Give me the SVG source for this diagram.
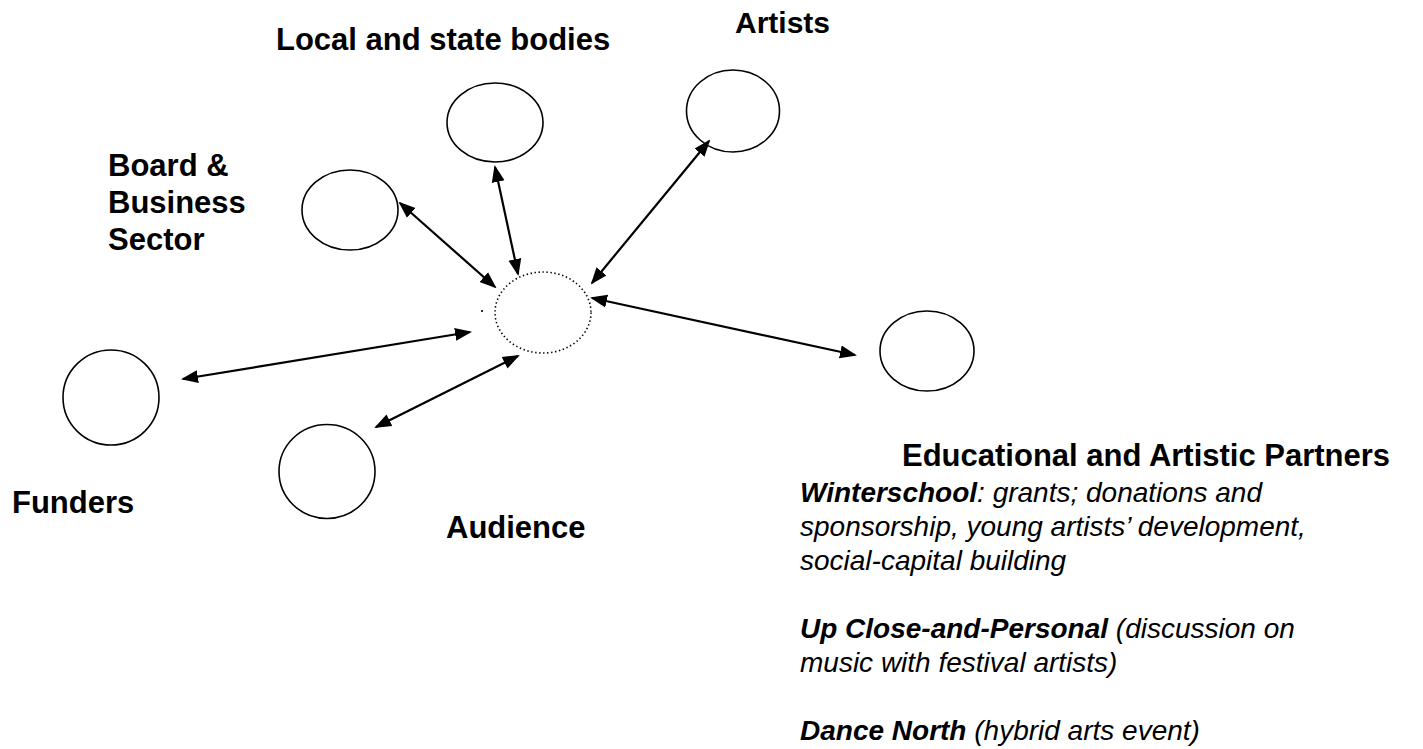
<svg xmlns="http://www.w3.org/2000/svg" width="1423" height="749" viewBox="0 0 1423 749">
<style>
.node{fill:none;stroke:#000;stroke-width:1.6}
.hub{fill:none;stroke:#000;stroke-width:1.6;stroke-dasharray:1.4 2.6}
.lbl{font-family:"Liberation Sans",Arial,sans-serif;font-weight:bold;font-size:31px;fill:#000}
.it{font-family:"Liberation Sans",Arial,sans-serif;font-style:italic;font-size:28px;fill:#000}
.b{font-weight:bold}
.con line{stroke:#000;stroke-width:2.2;marker-start:url(#ah);marker-end:url(#ah)}
</style>
<defs>
<marker id="ah" markerUnits="userSpaceOnUse" markerWidth="17" markerHeight="14" viewBox="0 0 17 14" refX="15" refY="7" orient="auto-start-reverse">
<path d="M0,0.5 L17,7 L0,13.5 z" fill="#000"/>
</marker>
</defs>
<rect width="1423" height="749" fill="#fff"/>
<g id="hub">
<ellipse class="hub" cx="543" cy="312.5" rx="48" ry="40.5"/>
<circle cx="482" cy="311" r="1.1" fill="#000"/>
</g>
<g id="local">
<ellipse class="node" cx="495" cy="122.5" rx="48" ry="39.5"/>
<text class="lbl" x="276" y="50">Local and state bodies</text>
</g>
<g id="artists">
<ellipse class="node" cx="733" cy="111" rx="46.5" ry="41"/>
<text class="lbl" x="735" y="33" style="font-size:30px">Artists</text>
</g>
<g id="board">
<ellipse class="node" cx="350" cy="210" rx="48" ry="40"/>
<text class="lbl" x="108"><tspan x="108" y="176">Board &amp;</tspan><tspan x="108" y="213">Business</tspan><tspan x="108" y="250">Sector</tspan></text>
</g>
<g id="funders">
<ellipse class="node" cx="111" cy="397.5" rx="48" ry="47.5"/>
<text class="lbl" x="12" y="513">Funders</text>
</g>
<g id="audience">
<ellipse class="node" cx="327" cy="471.5" rx="48" ry="47"/>
<text class="lbl" x="446" y="538">Audience</text>
</g>
<g id="partners">
<ellipse class="node" cx="927" cy="351" rx="47" ry="40"/>
<text class="lbl" x="902" y="466">Educational and Artistic Partners</text>
<text class="it"><tspan x="800" y="502"><tspan class="b">Winterschool</tspan>: grants; donations and</tspan><tspan x="800" y="536">sponsorship, young artists’ development,</tspan><tspan x="800" y="570">social-capital building</tspan><tspan x="800" y="638"><tspan class="b">Up Close-and-Personal</tspan> (discussion on</tspan><tspan x="800" y="672">music with festival artists)</tspan><tspan x="800" y="740"><tspan class="b">Dance North</tspan> (hybrid arts event)</tspan></text>
</g>
<g id="connectors" class="con">
<line x1="400" y1="203" x2="495" y2="287"/>
<line x1="495" y1="167" x2="518" y2="274"/>
<line x1="709" y1="141" x2="592" y2="283"/>
<line x1="592" y1="298" x2="855" y2="355"/>
<line x1="183" y1="379" x2="470" y2="332"/>
<line x1="376" y1="427" x2="518" y2="356"/>
</g>
</svg>
